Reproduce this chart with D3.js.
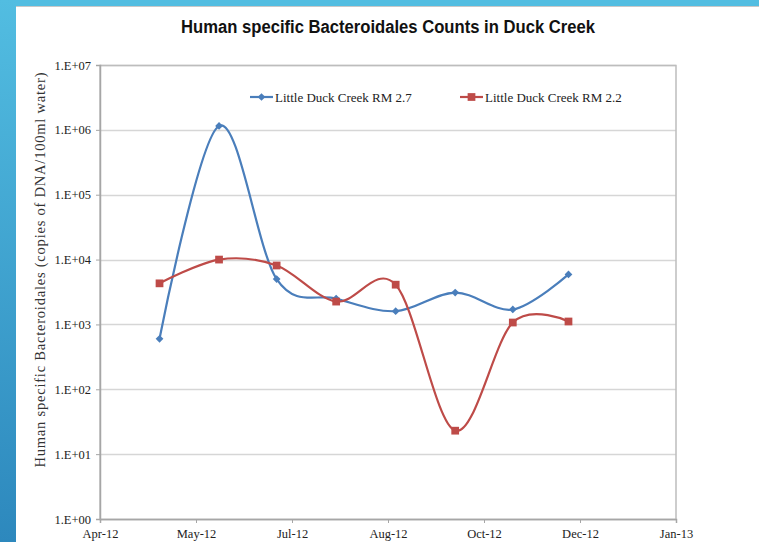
<!DOCTYPE html>
<html>
<head>
<meta charset="utf-8">
<script src="https://cdn.jsdelivr.net/npm/d3@7"></script>
<style>
  body { margin: 0; background: #fff; }
  svg { display: block; }
</style>
</head>
<body>
<div id="vis"></div>
<script>
// chart size
const FRAME_WIDTH = 759;
const FRAME_HEIGHT = 542;
const MARGINS = {left: 100, right: 83, top: 65, bottom: 23};

// data
const sampleDates = ["2012-05-02", "2012-06-02", "2012-07-02", "2012-08-02",
                     "2012-09-02", "2012-10-03", "2012-11-02", "2012-12-01"];
const rm27 = [600, 1150000, 5000, 2500, 1600, 3100, 1700, 5900];
const rm22 = [4300, 10000, 8100, 2250, 4100, 23, 1070, 1110];
const seriesNames = ["Little Duck Creek RM 2.7", "Little Duck Creek RM 2.2"];
const yTicks = [1, 10, 100, 1000, 10000, 100000, 1000000, 10000000];
const yTickLabels = ["1.E+00", "1.E+01", "1.E+02", "1.E+03", "1.E+04", "1.E+05", "1.E+06", "1.E+07"];
const xTickDates = ["2012-04-01", "2012-05-21", "2012-07-10", "2012-08-29",
                    "2012-10-18", "2012-12-07", "2013-01-26"];

const parse = d3.timeParse("%Y-%m-%d");
const VIS_WIDTH = FRAME_WIDTH - MARGINS.left - MARGINS.right;
const VIS_HEIGHT = FRAME_HEIGHT - MARGINS.top - MARGINS.bottom;

const FRAME = d3.select("#vis")
  .append("svg")
    .attr("width", FRAME_WIDTH)
    .attr("height", FRAME_HEIGHT);

// slide background (blue strips on left and top)
const grad = FRAME.append("defs").append("linearGradient")
    .attr("id", "blueGrad")
    .attr("x1", 0).attr("y1", 0).attr("x2", 0).attr("y2", 1);
grad.append("stop").attr("offset", "0%").attr("stop-color", "#52bde1");
grad.append("stop").attr("offset", "100%").attr("stop-color", "#2d88bd");
FRAME.append("rect").attr("x", 0).attr("y", 0)
    .attr("width", FRAME_WIDTH).attr("height", 6).attr("fill", "#52bde1");
FRAME.append("rect").attr("x", 0).attr("y", 0)
    .attr("width", 16).attr("height", FRAME_HEIGHT).attr("fill", "url(#blueGrad)");
FRAME.append("line")
    .attr("x1", 16).attr("x2", FRAME_WIDTH).attr("y1", 6.5).attr("y2", 6.5)
    .attr("stroke", "#c8c8c8");

// scales
const X_SCALE = d3.scaleTime()
    .domain([parse(xTickDates[0]), parse(xTickDates[xTickDates.length - 1])])
    .range([0, VIS_WIDTH]);
const Y_SCALE = d3.scaleLog()
    .domain([1, 10000000])
    .range([VIS_HEIGHT, 0]);

const G = FRAME.append("g")
    .attr("transform", "translate(" + MARGINS.left + "," + MARGINS.top + ")");

// gridlines
G.append("g")
    .selectAll("line")
    .data(yTicks)
    .enter()
    .append("line")
      .attr("x1", 0).attr("x2", VIS_WIDTH)
      .attr("y1", (d) => Math.round(Y_SCALE(d)) + 0.5)
      .attr("y2", (d) => Math.round(Y_SCALE(d)) + 0.5)
      .attr("stroke", "#d6d6d6")
      .attr("stroke-width", 1.5);

// plot box
G.append("rect")
    .attr("x", 0).attr("y", 0.5)
    .attr("width", VIS_WIDTH).attr("height", VIS_HEIGHT)
    .attr("fill", "none")
    .attr("stroke", "#bdbdbd")
    .attr("stroke-width", 1.5);

// y axis
const yAxis = G.append("g")
    .call(d3.axisLeft(Y_SCALE)
            .tickValues(yTicks)
            .tickSize(4)
            .tickPadding(5)
            .tickFormat((d, i) => yTickLabels[i]));
// x axis
const xAxis = G.append("g")
    .attr("transform", "translate(0," + VIS_HEIGHT + ")")
    .call(d3.axisBottom(X_SCALE)
            .tickValues(xTickDates.map(parse))
            .tickSize(4)
            .tickPadding(6)
            .tickFormat(d3.timeFormat("%b-%y")));

[yAxis, xAxis].forEach((ax) => {
  ax.select(".domain").attr("stroke", "#a6a6a6").attr("stroke-width", 1.5);
  ax.selectAll(".tick line").attr("stroke", "#a6a6a6");
  ax.selectAll("text")
    .attr("fill", "#222")
    .attr("font-family", "'Liberation Serif', 'Times New Roman', serif")
    .attr("font-size", "12.5px");
});

// lines
const series = [
  {name: seriesNames[0], values: rm27, color: "#4a7ebb", rot: 45, size: 30},
  {name: seriesNames[1], values: rm22, color: "#be4b48", rot: 0, size: 60}
];

const line = d3.line()
    .x((d, i) => X_SCALE(parse(sampleDates[i])))
    .y((d) => Y_SCALE(d))
    .curve(d3.curveCardinal.tension(0));

series.forEach((s) => {
  G.append("path")
      .datum(s.values)
      .attr("d", line)
      .attr("fill", "none")
      .attr("stroke", s.color)
      .attr("stroke-width", 2.2);
  G.selectAll(null)
      .data(s.values)
      .enter()
      .append("path")
        .attr("d", d3.symbol().type(d3.symbolSquare).size(s.size))
        .attr("transform", (d, i) => "translate(" + X_SCALE(parse(sampleDates[i])) + "," + Y_SCALE(d) + ") rotate(" + s.rot + ")")
        .attr("fill", s.color);
});

// legend
const legendX = [250, 460];
series.forEach((s, i) => {
  const lg = FRAME.append("g").attr("transform", "translate(" + legendX[i] + ",97)");
  lg.append("line")
      .attr("x1", 0).attr("x2", 23).attr("y1", 0).attr("y2", 0)
      .attr("stroke", s.color).attr("stroke-width", 2.2);
  lg.append("path")
      .attr("d", d3.symbol().type(d3.symbolSquare).size(s.size))
      .attr("transform", "translate(11.5,0) rotate(" + s.rot + ")")
      .attr("fill", s.color);
  lg.append("text")
      .attr("x", 25).attr("y", 4.5)
      .attr("font-family", "'Liberation Serif', 'Times New Roman', serif")
      .attr("font-size", "13px")
      .attr("fill", "#222")
      .text(s.name);
});

// title
FRAME.append("text")
    .attr("x", 388).attr("y", 33)
    .attr("text-anchor", "middle")
    .attr("font-family", "'Liberation Sans Narrow', 'Liberation Sans', sans-serif")
    .attr("font-weight", "bold")
    .attr("font-size", "18px")
    .attr("textLength", 414)
    .attr("lengthAdjust", "spacingAndGlyphs")
    .attr("fill", "#111")
    .text("Human specific Bacteroidales Counts in Duck Creek");

// y axis title
FRAME.append("text")
    .attr("transform", "translate(45,270) rotate(-90)")
    .attr("text-anchor", "middle")
    .attr("font-family", "'Liberation Serif', 'Times New Roman', serif")
    .attr("font-size", "14.5px")
    .attr("textLength", 395)
    .attr("lengthAdjust", "spacing")
    .attr("fill", "#333")
    .text("Human specific Bacteroidales (copies of DNA/100ml water)");
</script>
</body>
</html>
